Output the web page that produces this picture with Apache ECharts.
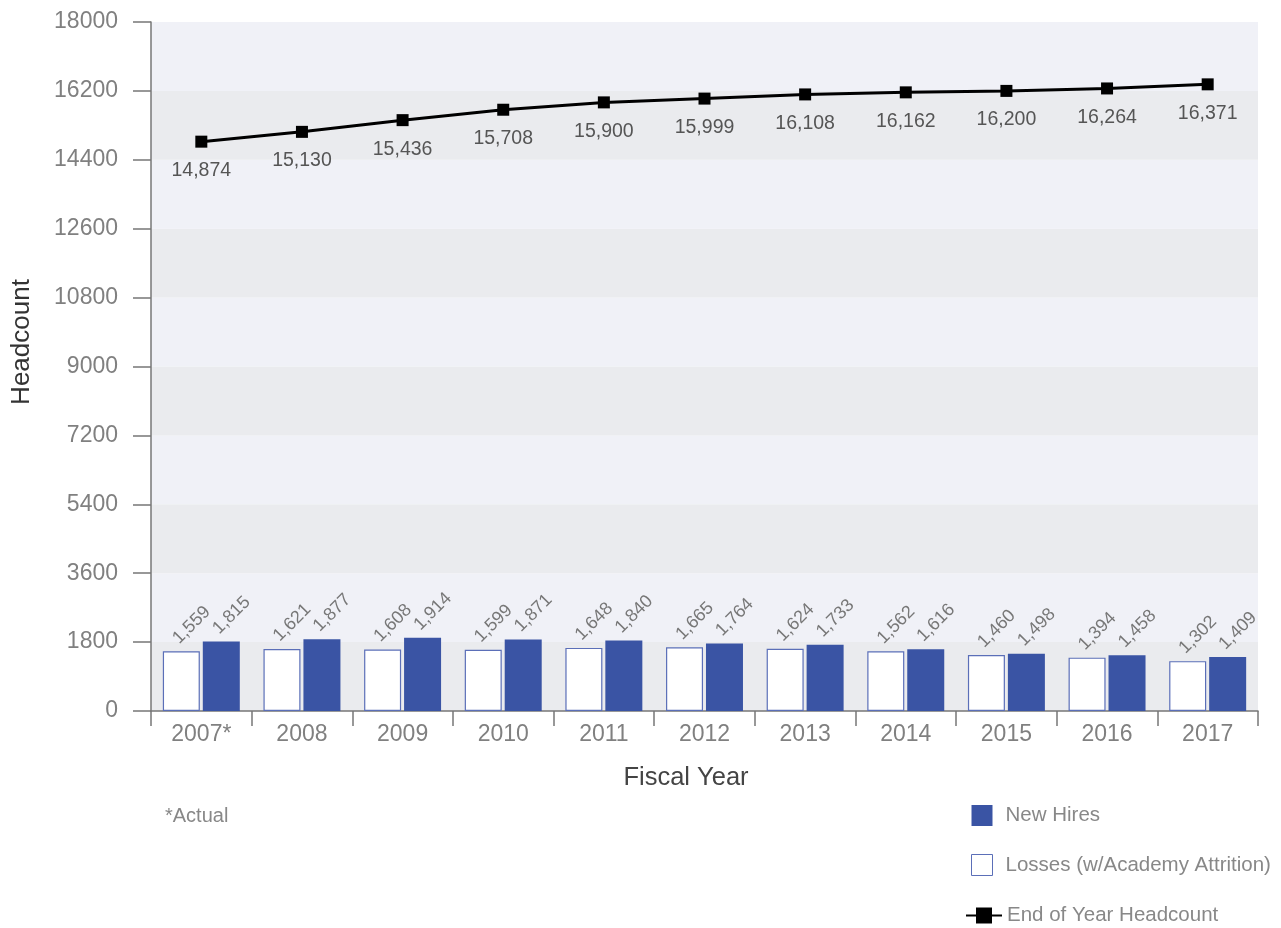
<!DOCTYPE html>
<html>
<head>
<meta charset="utf-8">
<title>Headcount by Fiscal Year</title>
<script src="https://cdn.jsdelivr.net/npm/echarts@6/dist/echarts.min.js"></script>
<style>
  html, body { margin: 0; padding: 0; background: #fff; }
  #chart { width: 1281px; height: 928px; }
</style>
</head>
<body>
<div id="chart"></div>
<script>
// Fiscal years shown on the category axis
const years = ['2007*', '2008', '2009', '2010', '2011', '2012', '2013', '2014', '2015', '2016', '2017'];
// Losses including academy attrition
const losses = [1559, 1621, 1608, 1599, 1648, 1665, 1624, 1562, 1460, 1394, 1302];
// New hires per year
const newHires = [1815, 1877, 1914, 1871, 1840, 1764, 1733, 1616, 1498, 1458, 1409];
// Headcount at the end of each fiscal year
const endHeadcount = [14874, 15130, 15436, 15708, 15900, 15999, 16108, 16162, 16200, 16264, 16371];
// Value axis scale
const yMin = 0, yMax = 18000, yStep = 1800;

const FONT = "'Helvetica Neue', 'Liberation Sans', Arial, sans-serif";
const BLUE = '#3a54a4';
const OUTLINE = '#5b6fb8';
const fmt = v => v.toLocaleString('en-US');

const chart = echarts.init(document.getElementById('chart'));

const barLabel = {
  show: true,
  position: 'top',
  rotate: 45,
  align: 'left',
  verticalAlign: 'middle',
  distance: 16,
  offset: [-8, 0],
  color: '#777',
  fontSize: 18,
  fontFamily: FONT,
  formatter: p => fmt(p.value)
};

chart.setOption({
  animation: false,
  textStyle: { fontFamily: FONT },
  grid: { left: 151, right: 23, top: 22, bottom: 217, containLabel: false },
  xAxis: {
    type: 'category',
    data: years,
    boundaryGap: true,
    axisLine: { lineStyle: { color: '#777', width: 1.5 } },
    axisTick: { show: true, length: 15, lineStyle: { color: '#777', width: 1.5 } },
    axisLabel: { color: '#808080', fontSize: 23, margin: 12, fontFamily: FONT },
    splitLine: { show: false }
  },
  yAxis: {
    type: 'value',
    min: yMin,
    max: yMax,
    interval: yStep,
    axisLine: { show: true, lineStyle: { color: '#777', width: 1.5 } },
    axisTick: { show: true, length: 18, lineStyle: { color: '#777', width: 1.5 } },
    axisLabel: { color: '#808080', fontSize: 23, margin: 33, fontFamily: FONT, formatter: v => String(v) },
    splitLine: { show: false },
    splitArea: { show: true, areaStyle: { color: ['#eaebee', '#f0f1f7'] } }
  },
  legend: [
    {
      orient: 'vertical',
      left: 971,
      top: 805,
      padding: 0,
      itemWidth: 21,
      itemHeight: 21,
      itemGap: 28,
      icon: 'rect',
      textStyle: { color: '#888', fontSize: 20.5, fontFamily: FONT, padding: [2, 0, 0, 8] },
      data: [
        { name: 'New Hires', itemStyle: { color: BLUE, borderWidth: 0 } },
        { name: 'Losses (w/Academy Attrition)', itemStyle: { color: '#fff', borderColor: OUTLINE, borderWidth: 1 } }
      ]
    },
    {
      orient: 'vertical',
      left: 965,
      top: 905,
      padding: 0,
      itemWidth: 36,
      itemHeight: 20,
      textStyle: { color: '#888', fontSize: 20.5, fontFamily: FONT, padding: [0, 0, 0, 0] },
      data: [{ name: 'End of Year Headcount' }]
    }
  ],
  graphic: [
    {
      type: 'text',
      left: 165,
      top: 806,
      style: { text: '*Actual', fill: '#888', font: '20px ' + FONT }
    },
    {
      type: 'text',
      x: 22,
      y: 342,
      rotation: Math.PI / 2,
      style: { text: 'Headcount', fill: '#333', font: '26px ' + FONT, align: 'center', verticalAlign: 'middle' }
    },
    {
      type: 'text',
      x: 686,
      y: 778,
      style: { text: 'Fiscal Year', fill: '#444', font: '25.5px ' + FONT, align: 'center', verticalAlign: 'middle' }
    }
  ],
  series: [
    {
      name: 'Losses (w/Academy Attrition)',
      type: 'bar',
      data: losses,
      barWidth: 37,
      barGap: '8%',
      itemStyle: { color: '#fff', borderColor: OUTLINE, borderWidth: 1.2 },
      label: barLabel
    },
    {
      name: 'New Hires',
      type: 'bar',
      data: newHires,
      barWidth: 37,
      barGap: '8%',
      itemStyle: { color: BLUE },
      label: barLabel
    },
    {
      name: 'End of Year Headcount',
      type: 'line',
      data: endHeadcount,
      symbol: 'rect',
      symbolSize: 12,
      lineStyle: { color: '#000', width: 3 },
      itemStyle: { color: '#000' },
      label: {
        show: true,
        position: 'bottom',
        distance: 13,
        color: '#555',
        fontSize: 19.5,
        fontFamily: FONT,
        formatter: p => fmt(p.value)
      },
      z: 5
    }
  ]
});
</script>
</body>
</html>
